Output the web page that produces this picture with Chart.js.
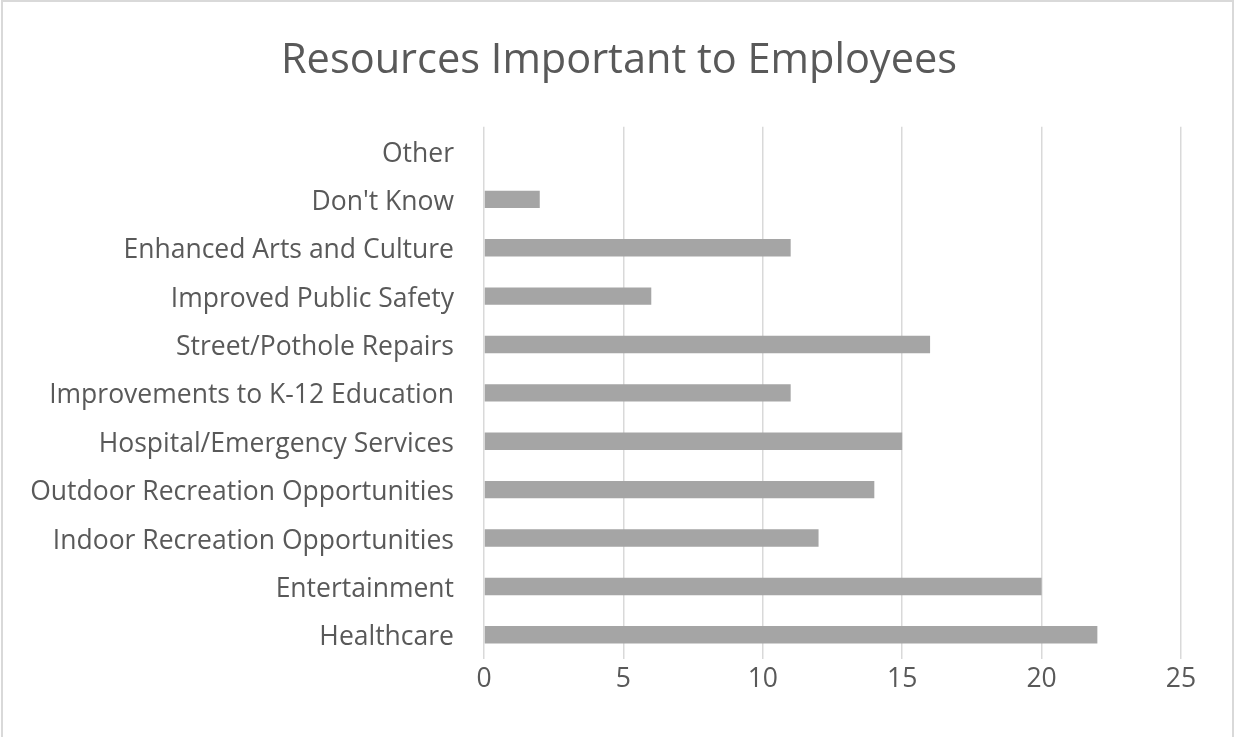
<!DOCTYPE html>
<html>
<head>
<meta charset="utf-8">
<script src="https://cdn.jsdelivr.net/npm/chart.js@4.4.1/dist/chart.umd.min.js"></script>
<style>
  html, body { margin: 0; padding: 0; background: #fff; }
  #wrap { width: 1238px; height: 737px; position: relative; }
</style>
</head>
<body>
<div id="wrap"><canvas id="chart" width="1238" height="737"></canvas></div>
<script>
// categories listed bottom-up (axis is reversed so the first one sits at the bottom)
const categories = [
  'Healthcare',
  'Entertainment',
  'Indoor Recreation Opportunities',
  'Outdoor Recreation Opportunities',
  'Hospital/Emergency Services',
  'Improvements to K-12 Education',
  'Street/Pothole Repairs',
  'Improved Public Safety',
  'Enhanced Arts and Culture',
  "Don't Know",
  'Other'
];
const counts = [22, 20, 12, 14, 15, 11, 16, 6, 11, 2, 0];
const xTicks = [0, 5, 10, 15, 20, 25];

const textColor = '#595959';
const fontFamily = "'Open Sans', 'Segoe UI', sans-serif";

// thin grey frame around the whole chart area
const frame = {
  id: 'frame',
  afterDraw(chart) {
    const ctx = chart.ctx;
    ctx.save();
    ctx.strokeStyle = '#d9d9d9';
    ctx.lineWidth = 2;
    ctx.strokeRect(2, 1, 1231, 745);
    ctx.restore();
  }
};

new Chart(document.getElementById('chart').getContext('2d'), {
  type: 'bar',
  data: {
    labels: categories,
    datasets: [{
      data: counts,
      backgroundColor: '#a5a5a5',
      borderWidth: 0,
      categoryPercentage: 0.36,
      barPercentage: 1
    }]
  },
  options: {
    indexAxis: 'y',
    responsive: false,
    animation: false,
    layout: { padding: 0 },
    plugins: {
      legend: { display: false },
      tooltip: { enabled: false },
      title: {
        display: true,
        text: 'Resources Important to Employees',
        color: textColor,
        font: { family: fontFamily, size: 41.5, weight: 'normal' },
        padding: { top: 36, bottom: 41 }
      }
    },
    scales: {
      x: {
        min: 0,
        max: 25,
        afterBuildTicks: axis => { axis.ticks = xTicks.map(v => ({ value: v })); },
        grid: { color: '#d9d9d9', lineWidth: 1.5, drawTicks: false },
        border: { display: false },
        ticks: { color: textColor, padding: 5, font: { family: fontFamily, size: 26.5 } },
        afterFit: axis => { axis.height = 78; }
      },
      y: {
        reverse: true,
        grid: { display: false },
        border: { display: false },
        ticks: { color: textColor, padding: 22, labelOffset: 3, autoSkip: false, font: { family: fontFamily, size: 26.5 } },
        afterFit: axis => { axis.width = 484; }
      },
      // empty spacer on the right so the plot stops short of the frame
      spacer: {
        type: 'linear',
        position: 'right',
        grid: { display: false },
        border: { display: false },
        ticks: { display: false },
        afterFit: axis => { axis.width = 57; }
      }
    }
  },
  plugins: [frame]
});
</script>
</body>
</html>
